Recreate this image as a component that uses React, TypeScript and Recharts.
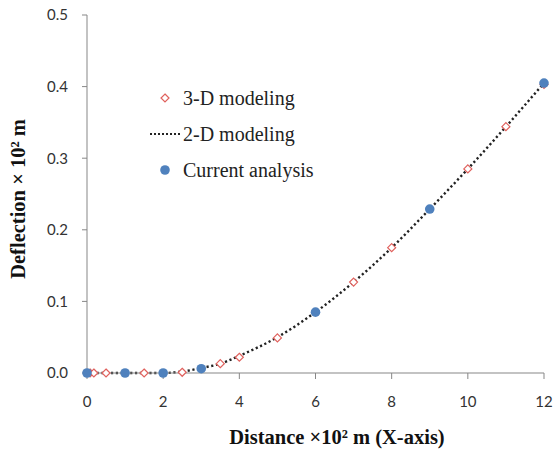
import { ComposedChart, Label, Legend, Line, Scatter, XAxis, YAxis } from "recharts";

// 3-D modeling results (open diamonds)
const modeling3dX = [0.08, 0.18, 0.5, 1.5, 2.5, 3.5, 4, 5, 7, 8, 10, 11, 12];
const modeling3dY = [0, 0, 0, 0, 0.001, 0.013, 0.022, 0.049, 0.127, 0.175, 0.285, 0.344, 0.403];

// 2-D modeling curve (dotted line)
const modeling2dX = [0, 1, 2, 2.5, 3, 3.5, 4, 5, 6, 7, 8, 9, 10, 11, 12];
const modeling2dY = [0, 0, 0, 0.002, 0.007, 0.013, 0.024, 0.05, 0.085, 0.127, 0.175, 0.229, 0.285, 0.344, 0.405];

// current analysis (filled dots)
const currentX = [0, 1, 2, 3, 6, 9, 12];
const currentY = [0, 0, 0, 0.006, 0.085, 0.229, 0.405];

const xTicks = [0, 2, 4, 6, 8, 10, 12];
const yTicks = [0, 0.1, 0.2, 0.3, 0.4, 0.5];

const legendNames = ["3-D modeling", "2-D modeling", "Current analysis"];

const zip = (xs: number[], ys: number[]) => xs.map((x, i) => ({ x, y: ys[i] }));

const data3d = zip(modeling3dX, modeling3dY);
const data2d = zip(modeling2dX, modeling2dY);
const dataCurrent = zip(currentX, currentY);

const RED = "#e0615d";
const BLUE = "#4f81bd";
const AXIS = "#878787";
const tickStyle = { fontFamily: "Lato, 'Open Sans', sans-serif", fontSize: 15, fill: "#333" };
const titleFont = "'Liberation Serif', 'Times New Roman', serif";

const Diamond = (props: any) => {
  const { cx, cy } = props;
  const r = 4;
  return (
    <polygon
      points={`${cx},${cy - r} ${cx + r},${cy} ${cx},${cy + r} ${cx - r},${cy}`}
      fill="#fff"
      stroke={RED}
      strokeWidth={1.2}
    />
  );
};

const Dot = (props: any) => <circle cx={props.cx} cy={props.cy} r={4.8} fill={BLUE} />;

const legendIcons = [
  <polygon key="d" points="165,-4 169,0 165,4 161,0" fill="#fff" stroke={RED} strokeWidth={1.2} />,
  <line key="l" x1={150} y1={0} x2={181} y2={0} stroke="#222" strokeWidth={2.2} strokeDasharray="2 2" />,
  <circle key="c" cx={165} cy={0} r={4.8} fill={BLUE} />,
];

const LegendBox = () => (
  <svg width={220} height={110} style={{ overflow: "visible" }}>
    {legendNames.map((name, i) => (
      <g key={name} transform={`translate(-145, ${16 + i * 36})`}>
        {legendIcons[i]}
        <text x={183} y={0} dy="0.35em" fontFamily={titleFont} fontSize={20} fill="#222">
          {name}
        </text>
      </g>
    ))}
  </svg>
);

const YTitle = (props: any) => {
  const { viewBox } = props;
  const cy = viewBox.y + viewBox.height / 2 + 5;
  return (
    <text
      x={18}
      y={cy}
      transform={`rotate(-90, 18, ${cy})`}
      textAnchor="middle"
      dominantBaseline="central"
      fontFamily={titleFont}
      fontWeight="bold"
      fontSize={20.5}
      fill="#111"
    >
      Deflection × 10² m
    </text>
  );
};

const XTitle = () => (
  <text
    x={337}
    y={437}
    textAnchor="middle"
    dominantBaseline="central"
    fontFamily={titleFont}
    fontWeight="bold"
    fontSize={20.5}
    fill="#111"
  >
    Distance ×10² m (X-axis)
  </text>
);

export default function App() {
  return (
    <div style={{ position: "absolute", left: 0, top: 0, background: "#fff" }}>
      <ComposedChart width={555} height={450} margin={{ top: 15, right: 11, bottom: 17, left: 0 }}>
        <XAxis
          type="number"
          dataKey="x"
          domain={[0, 12]}
          ticks={xTicks}
          height={60}
          stroke={AXIS}
          tickSize={6}
          tickMargin={17}
          tick={tickStyle}
        >
          <Label content={<XTitle />} />
        </XAxis>
        <YAxis
          type="number"
          domain={[0, 0.5]}
          ticks={yTicks}
          width={87}
          stroke={AXIS}
          tickSize={5}
          tickMargin={14}
          tick={tickStyle}
          tickFormatter={(v: number) => v.toFixed(1)}
        >
          <Label content={<YTitle />} />
        </YAxis>
        <Legend
          layout="vertical"
          align="center"
          verticalAlign="middle"
          content={<LegendBox />}
          wrapperStyle={{ left: 145, top: 82, width: 220, height: 110 }}
        />
        <Line
          data={data2d}
          dataKey="y"
          type="monotone"
          stroke="#222"
          strokeWidth={2.4}
          strokeDasharray="2.2 2.6"
          dot={false}
          activeDot={false}
          isAnimationActive={false}
        />
        <Scatter data={data3d} dataKey="y" shape={<Diamond />} isAnimationActive={false} />
        <Scatter data={dataCurrent} dataKey="y" shape={<Dot />} isAnimationActive={false} />
      </ComposedChart>
    </div>
  );
}
